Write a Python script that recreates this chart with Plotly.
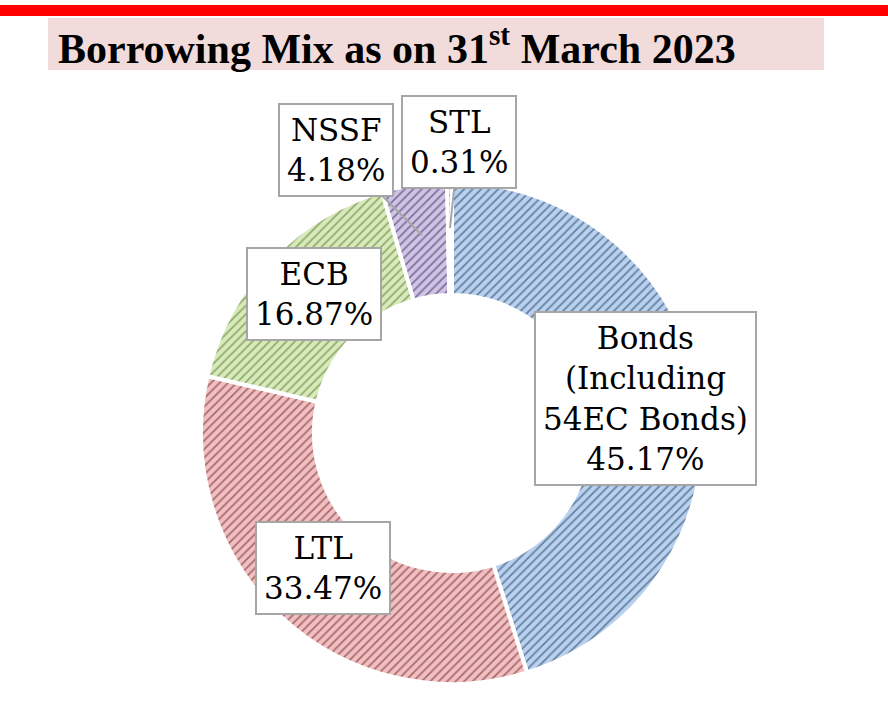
import math
import plotly.graph_objects as go

# Borrowing mix data
labels = ['Bonds', 'LTL', 'ECB', 'NSSF', 'STL']
label_text = ['Bonds<br>(Including<br>54EC Bonds)', 'LTL', 'ECB', 'NSSF', 'STL']
shares = [45.17, 33.47, 16.87, 4.18, 0.31]

fill_colors = ['#b9d0ee', '#f0bfbf', '#d8e9bb', '#d0c4e4', '#d0c4e4']
hatch_colors = ['#62809f', '#a8686d', '#8faa6a', '#7d6e9c', '#7d6e9c']

W, H = 888, 704
cx, cy, R = 452, 433, 251   # pie centre / radius in pixels


def px(x):
    return x / W


def py(y):
    return 1 - y / H


fig = go.Figure()

fig.add_trace(go.Pie(
    labels=labels,
    values=shares,
    sort=False,
    direction='clockwise',
    rotation=0,
    hole=0.55,
    textinfo='none',
    showlegend=False,
    domain=dict(x=[px(cx - R), px(cx + R)], y=[py(cy + R), py(cy - R)]),
    marker=dict(
        colors=fill_colors,
        line=dict(color='white', width=4),
        pattern=dict(shape='/', fgcolor=hatch_colors, bgcolor=fill_colors,
                     size=6, solidity=0.28, fillmode='replace'),
    ),
))

# label boxes (centre positions in pixels)
box_pos = {'Bonds': (645, 398), 'LTL': (323, 568), 'ECB': (314, 294),
           'NSSF': (336, 150), 'STL': (459, 142)}
callout = {'NSSF': 200, 'STL': 205}   # radius of callout tip

cum = 0
for name, txt, v in zip(labels, label_text, shares):
    mid = (cum + v / 2) / sum(shares) * 2 * math.pi
    cum += v
    bx, by = box_pos[name]
    text = f'{txt}<br>{v:.2f}%'
    common = dict(text=text, xref='paper', yref='paper', bgcolor='white',
                  bordercolor='#a6a6a6', borderwidth=2, borderpad=7,
                  xanchor='center', yanchor='middle',
                  font=dict(family='DejaVu Serif', size=31, color='black'))
    if name in callout:
        r = callout[name]
        tx = cx + r * math.sin(mid)
        ty = cy - r * math.cos(mid)
        fig.add_annotation(x=px(tx), y=py(ty), ax=bx - tx, ay=by - ty,
                           showarrow=True, arrowhead=0, arrowwidth=2,
                           arrowcolor='#a6a6a6', **common)
    else:
        fig.add_annotation(x=px(bx), y=py(by), showarrow=False, **common)

# header band and title
fig.add_shape(type='rect', xref='paper', yref='paper', x0=0, x1=1,
              y0=py(16), y1=py(5), fillcolor='#ff0000', line_width=0)
fig.add_shape(type='rect', xref='paper', yref='paper', x0=px(48), x1=px(824),
              y0=py(70), y1=py(18), fillcolor='#f2dcdb', line_width=0)
fig.add_annotation(text='<b>Borrowing Mix as on 31<sup>st</sup> March 2023</b>',
                   x=px(56), y=py(45), xref='paper', yref='paper',
                   xanchor='left', yanchor='middle', showarrow=False,
                   font=dict(family='Liberation Serif', size=42, color='black'))

fig.update_layout(
    width=W, height=H,
    margin=dict(l=0, r=0, t=0, b=0),
    paper_bgcolor='white',
    plot_bgcolor='white',
)

# drop the browser's default page margin so the figure sits at (0, 0)
fig.write_html('out.html', config={'displayModeBar': False},
               post_script="document.body.style.margin='0';")
